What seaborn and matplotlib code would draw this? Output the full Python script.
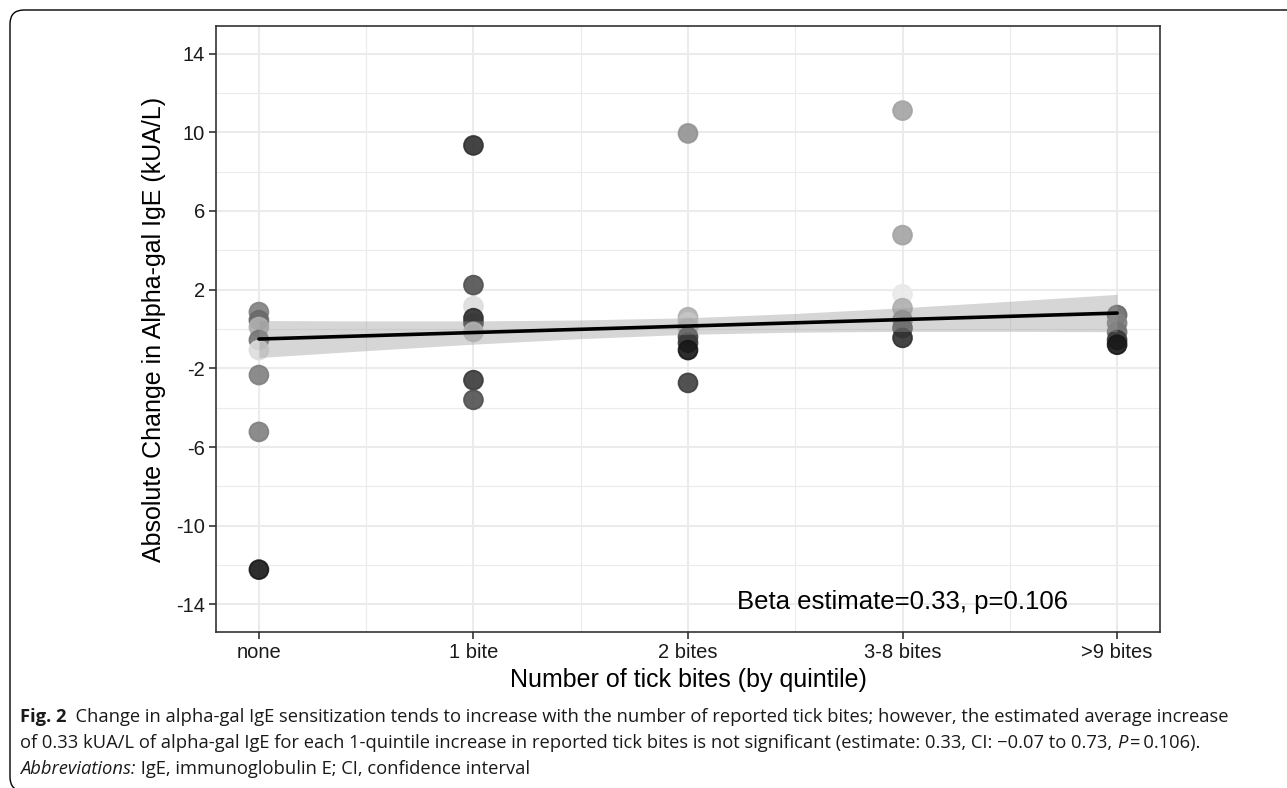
import numpy as np
import pandas as pd
import matplotlib
matplotlib.use("Agg")
import matplotlib.pyplot as plt
import seaborn as sns
from matplotlib.patches import FancyBboxPatch
from matplotlib.ticker import FixedLocator

# ---------------- data ----------------
categories = ["none", "1 bite", "2 bites", "3-8 bites", ">9 bites"]

group_idx = [0, 0, 0, 0, 0, 0, 0, 0,
             1, 1, 1, 1, 1, 1, 1, 1,
             2, 2, 2, 2, 2, 2, 2, 2,
             3, 3, 3, 3, 3, 3, 3,
             4, 4, 4, 4, 4]
change = [0.86, 0.45, 0.10, -0.56, -1.07, -2.34, -5.23, -12.23,
          9.33, 2.23, 1.16, 0.55, 0.30, -0.15, -2.60, -3.60,
          9.94, 0.60, 0.35, 0.05, -0.40, -0.70, -1.07, -2.74,
          11.10, 4.77, 1.77, 1.06, 0.45, 0.05, -0.45,
          0.71, 0.30, -0.15, -0.56, -0.80]
shade = [0.50, 0.60, 0.30, 0.55, 0.10, 0.50, 0.50, 0.95,
         0.85, 0.70, 0.10, 0.85, 0.80, 0.22, 0.80, 0.70,
         0.42, 0.30, 0.20, 0.25, 0.75, 0.80, 0.95, 0.78,
         0.35, 0.35, 0.05, 0.30, 0.45, 0.70, 0.85,
         0.60, 0.50, 0.55, 0.80, 0.95]

fit_x = [0, 0.5, 1, 1.5, 2, 2.5, 3, 3.5, 4]
fit_y = [-0.51, -0.345, -0.18, -0.015, 0.15, 0.315, 0.48, 0.645, 0.81]
ci_low = [-1.45, -1.10, -0.77, -0.49, -0.27, -0.16, -0.12, -0.12, -0.14]
ci_high = [0.43, 0.41, 0.41, 0.46, 0.57, 0.79, 1.08, 1.41, 1.76]

y_ticks = [14, 10, 6, 2, -2, -6, -10, -14]
y_minor = [12, 8, 4, 0, -4, -8, -12]
x_minor = [0.5, 1.5, 2.5, 3.5]

annotation = "Beta estimate=0.33, p=0.106"
x_title = "Number of tick bites (by quintile)"
y_title = "Absolute Change in Alpha-gal IgE (kUA/L)"

df = pd.DataFrame({"bites": group_idx, "change": change, "shade": shade})
fit = pd.DataFrame({"x": fit_x, "y": fit_y})

# ---------------- figure ----------------
W, H = 1287, 788
sns.set_theme(style="white")
plt.rcParams["font.family"] = ["Liberation Sans", "DejaVu Sans"]
fig = plt.figure(figsize=(W / 100, H / 100), dpi=100)

L, R, T, B = 216, 1160, 26, 632
ax = fig.add_axes([L / W, 1 - B / H, (R - L) / W, (B - T) / H])
ax.set_facecolor("white")

# grid
for v in y_minor:
    ax.axhline(v, color="#EBEBEB", lw=0.8, zorder=0)
for v in x_minor:
    ax.axvline(v, color="#EBEBEB", lw=0.8, zorder=0)
for v in y_ticks:
    ax.axhline(v, color="#EBEBEB", lw=1.5, zorder=0)
for v in range(len(categories)):
    ax.axvline(v, color="#EBEBEB", lw=1.5, zorder=0)

grey_cmap = sns.blend_palette(["#f4f4f4", "#0c0c0c"], as_cmap=True)
sns.scatterplot(data=df, x="bites", y="change", hue="shade", palette=grey_cmap,
                hue_norm=(0, 1), s=185, alpha=0.9, edgecolor="face", linewidth=1.3,
                legend=False, ax=ax, zorder=3)

ax.fill_between(fit_x, ci_low, ci_high, color="#999999", alpha=0.4, lw=0, zorder=4)
sns.lineplot(data=fit, x="x", y="y", color="black", lw=2.6, ax=ax, zorder=5)

ax.text(3.0, -13.9, annotation, ha="center", va="center", fontsize=18.5, color="black")

ax.set_xlim(-0.2, 4.2)
ax.set_ylim(-15.4, 15.4)
ax.xaxis.set_major_locator(FixedLocator(range(len(categories))))
ax.set_xticklabels(categories)
ax.yaxis.set_major_locator(FixedLocator(y_ticks))
ax.set_yticklabels([str(v) for v in y_ticks])
ax.tick_params(axis="both", which="major", length=5, width=1.2, color="#333333",
               labelsize=14.5, labelcolor="#1a1a1a", pad=3, direction="out",
               bottom=True, left=True)
for s in ax.spines.values():
    s.set_color("#333333")
    s.set_linewidth(1.2)
    s.set_zorder(10)
ax.set_xlabel(x_title, fontsize=18, color="black", labelpad=4)
ax.set_ylabel(y_title, fontsize=18, color="black", labelpad=7)

# ---------------- page frame ----------------
frame = FancyBboxPatch((10, -3), W + 40, (H - 10) + 3,
                       boxstyle="round,pad=0,rounding_size=14",
                       transform=None, fill=False, edgecolor="black", lw=1.0)
fig.patches.append(frame)

# ---------------- caption ----------------
cap_font = ["Open Sans", "DejaVu Sans"]
cap_size = 13.2
fig.canvas.draw()
renderer = fig.canvas.get_renderer()


def put_segments(x, y, segs):
    for txt, kw in segs:
        t = fig.text(x / W, 1 - y / H, txt, ha="left", va="center",
                     fontsize=cap_size, family=cap_font, color="#1a1a1a", **kw)
        x += t.get_window_extent(renderer).width


put_segments(20, 717, [
    ("Fig. 2", {"weight": "bold"}),
    ("  Change in alpha-gal IgE sensitization tends to increase with the number of reported tick bites; however, the estimated average increase", {}),
])
put_segments(20, 743, [
    ("of 0.33 kUA/L of alpha-gal IgE for each 1-quintile increase in reported tick bites is not significant (estimate: 0.33, CI: \u22120.07 to 0.73, ", {}),
    ("P", {"style": "italic"}),
    ("\u2009=\u20090.106).", {}),
])
put_segments(20, 769, [
    ("Abbreviations:", {"style": "italic"}),
    (" IgE, immunoglobulin E; CI, confidence interval", {}),
])

fig.savefig("out.png", dpi=100)
